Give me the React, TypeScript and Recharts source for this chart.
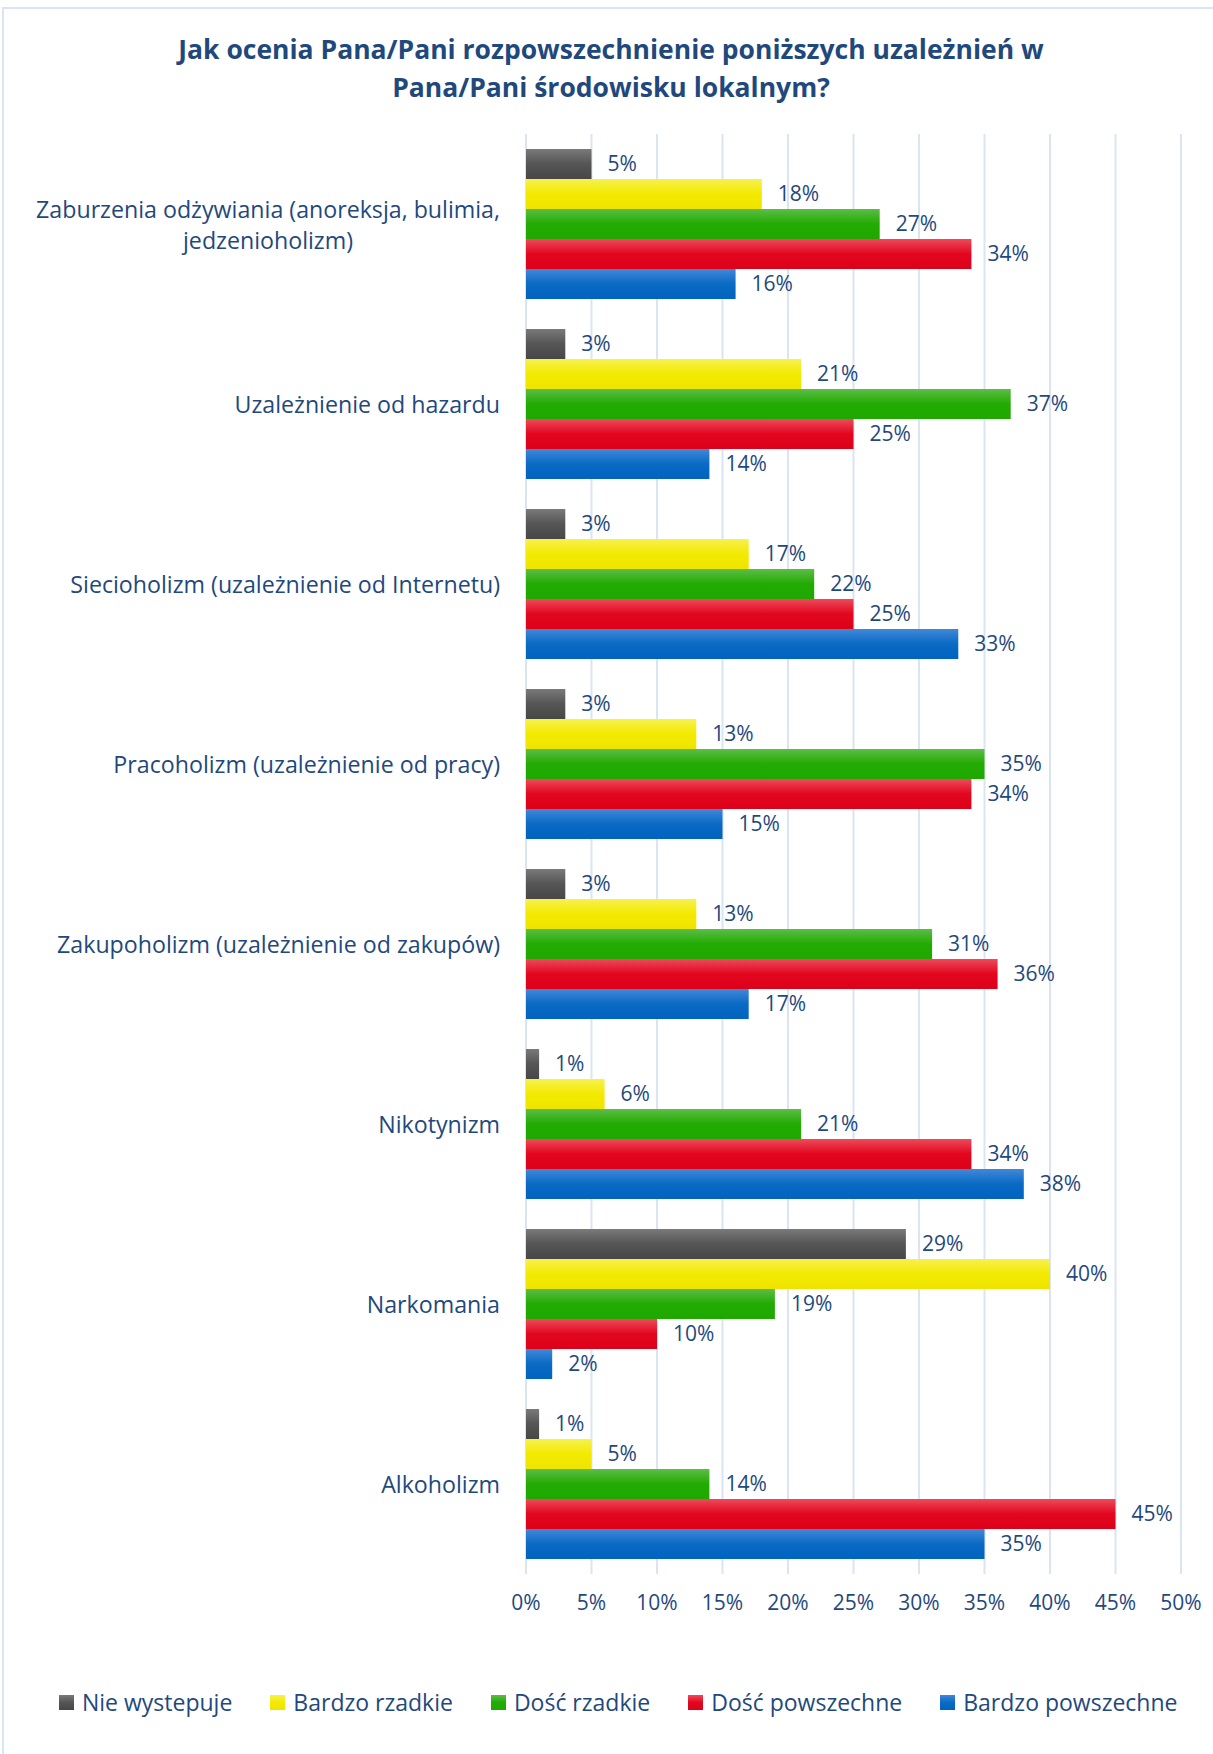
import { BarChart, Bar, XAxis, YAxis, CartesianGrid, Legend, LabelList } from 'recharts'

const categories = [
  'Zaburzenia odżywiania (anoreksja, bulimia,\njedzenioholizm)',
  'Uzależnienie od hazardu',
  'Siecioholizm (uzależnienie od Internetu)',
  'Pracoholizm (uzależnienie od pracy)',
  'Zakupoholizm (uzależnienie od zakupów)',
  'Nikotynizm',
  'Narkomania',
  'Alkoholizm',
]

const nieWystepuje = [5, 3, 3, 3, 3, 1, 29, 1]
const bardzoRzadkie = [18, 21, 17, 13, 13, 6, 40, 5]
const doscRzadkie = [27, 37, 22, 35, 31, 21, 19, 14]
const doscPowszechne = [34, 25, 25, 34, 36, 34, 10, 45]
const bardzoPowszechne = [16, 14, 33, 15, 17, 38, 2, 35]

const xTicks = [0, 5, 10, 15, 20, 25, 30, 35, 40, 45, 50]

const series = [
  { key: 'nie', name: 'Nie wystepuje', values: nieWystepuje, top: '#7a7a7a', base: '#555555', bottom: '#474747' },
  { key: 'bardzoRz', name: 'Bardzo rzadkie', values: bardzoRzadkie, top: '#f6f14e', base: '#f3ea00', bottom: '#efe400' },
  { key: 'doscRz', name: 'Dość rzadkie', values: doscRzadkie, top: '#5cbd46', base: '#22ab02', bottom: '#1fa800' },
  { key: 'doscPow', name: 'Dość powszechne', values: doscPowszechne, top: '#ee4a5a', base: '#e2061f', bottom: '#dc0018' },
  { key: 'bardzoPow', name: 'Bardzo powszechne', values: bardzoPowszechne, top: '#4088d8', base: '#0a6ac4', bottom: '#0063be' },
]

const data = categories.map((name, i) => {
  const row: Record<string, string | number> = { name }
  series.forEach(s => { row[s.key] = s.values[i] })
  return row
})

const TEXT = '#1f497d'
const FONT = '"Open Sans", sans-serif'
const CAT_SIZE = 23.2

let ctx: CanvasRenderingContext2D | null = null
function measure(text: string, font: string) {
  if (!ctx) ctx = document.createElement('canvas').getContext('2d')
  if (!ctx) return text.length * 11
  ctx.font = font
  return ctx.measureText(text).width
}

function CategoryTick({ x, y, payload }: any) {
  const lines = String(payload.value).split('\n')
  if (lines.length === 1) {
    return (
      <text x={x} y={y} textAnchor="end" dominantBaseline="central" fill={TEXT} fontSize={CAT_SIZE} fontFamily={FONT}>
        {lines[0]}
      </text>
    )
  }
  const w = Math.max(...lines.map(l => measure(l, `${CAT_SIZE}px "Open Sans"`)))
  const cx = x - w / 2
  return (
    <g>
      {lines.map((l, i) => (
        <text key={i} x={cx} y={y + (i - (lines.length - 1) / 2) * 31} textAnchor="middle"
          dominantBaseline="central" fill={TEXT} fontSize={CAT_SIZE} fontFamily={FONT}>
          {l}
        </text>
      ))}
    </g>
  )
}

// legend keeps the series order instead of recharts' sorted payload
function LegendContent() {
  return (
    <div style={{ display: 'flex', alignItems: 'center', gap: 38, fontFamily: FONT, fontSize: 23, color: TEXT }}>
      {series.map(s => (
        <div key={s.key} style={{ display: 'flex', alignItems: 'center', whiteSpace: 'nowrap' }}>
          <span style={{
            display: 'inline-block', width: 15, height: 15, marginRight: 8,
            background: `linear-gradient(${s.top}, ${s.base} 50%, ${s.bottom})`,
          }} />
          <span>{s.name}</span>
        </div>
      ))}
    </div>
  )
}

export default function App() {
  return (
    <div style={{ position: 'absolute', left: 0, top: 0, width: 1213, height: 1754, background: '#fff', overflow: 'hidden' }}>
      <div style={{
        position: 'absolute', left: 2, top: 7, width: 1300, height: 1800,
        borderLeft: '2px solid #dbe5f1', borderTop: '2px solid #dbe5f1',
      }} />
      <div style={{
        position: 'absolute', left: 0, top: 30, width: 1222, textAlign: 'center',
        fontFamily: FONT, fontWeight: 700, fontSize: 26.5, lineHeight: '38px', color: TEXT,
      }}>
        Jak ocenia Pana/Pani rozpowszechnienie poniższych uzależnień w<br />
        Pana/Pani środowisku lokalnym?
      </div>
      <div style={{ position: 'absolute', left: 0, top: 0 }}>
        <BarChart
          width={1213}
          height={1754}
          data={data}
          layout="vertical"
          margin={{ top: 134, right: 32, left: 0, bottom: 120 }}
          barCategoryGap={15}
          barGap={0}
        >
          <defs>
            {series.map(s => (
              <linearGradient key={s.key} id={`grad-${s.key}`} x1="0" y1="0" x2="0" y2="1">
                <stop offset="0%" stopColor={s.top} />
                <stop offset="50%" stopColor={s.base} />
                <stop offset="100%" stopColor={s.bottom} />
              </linearGradient>
            ))}
          </defs>
          <CartesianGrid horizontal={false} stroke="#dbe5f1" strokeWidth={2} />
          <XAxis
            type="number"
            domain={[0, 50]}
            ticks={xTicks}
            tickFormatter={(v: number) => `${v}%`}
            axisLine={false}
            tickLine={false}
            tickSize={0}
            tickMargin={21}
            height={60}
            tick={{ fill: TEXT, fontSize: 21, fontFamily: FONT }}
          />
          <YAxis
            type="category"
            dataKey="name"
            width={526}
            axisLine={false}
            tickLine={false}
            tickSize={0}
            tickMargin={26}
            interval={0}
            tick={<CategoryTick />}
          />
          <Legend
            verticalAlign="bottom"
            content={<LegendContent />}
            wrapperStyle={{ position: 'absolute', left: 59, top: 1686, bottom: 'auto', width: 'auto', height: 0 }}
          />
          {series.map(s => (
            <Bar key={s.key} dataKey={s.key} name={s.name} fill={`url(#grad-${s.key})`} isAnimationActive={false}>
              <LabelList
                dataKey={s.key}
                position="right"
                offset={16}
                formatter={(v: any) => `${v}%`}
                fill={TEXT}
                fontSize={21}
                fontFamily={FONT}
              />
            </Bar>
          ))}
        </BarChart>
      </div>
    </div>
  )
}
